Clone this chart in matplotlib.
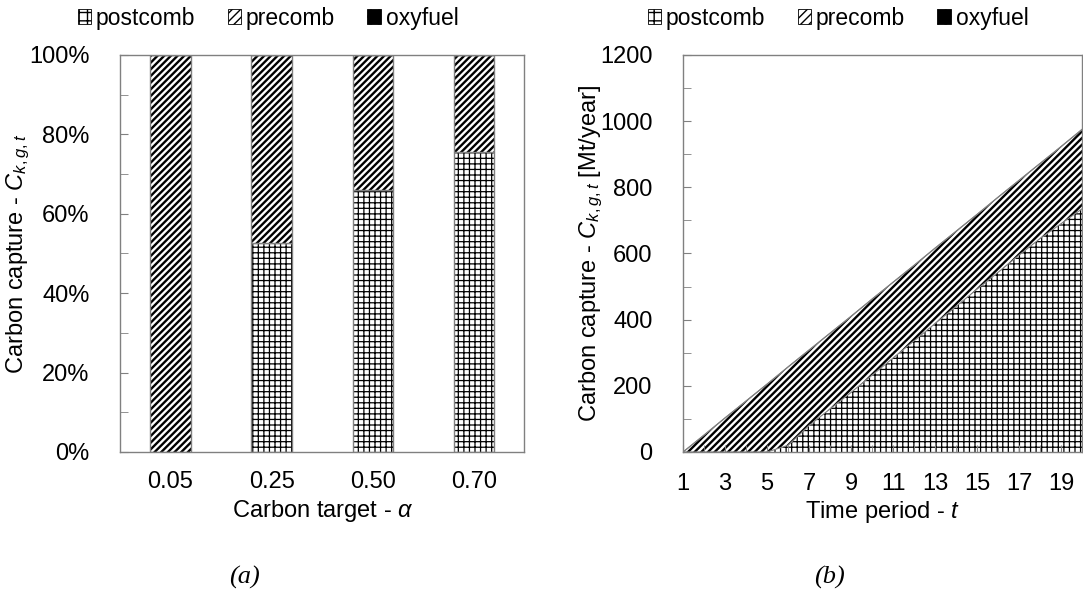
import matplotlib
matplotlib.use("Agg")
import matplotlib.pyplot as plt
from matplotlib.patches import Patch
from matplotlib.ticker import MultipleLocator, PercentFormatter
import numpy as np

plt.rcParams["font.family"] = ["Liberation Sans", "DejaVu Sans"]
plt.rcParams["mathtext.fontset"] = "custom"
plt.rcParams["mathtext.it"] = "Liberation Sans:italic"
plt.rcParams["mathtext.rm"] = "Liberation Sans"

# data, panel (a): share of capture per technology
targets = ["0.05", "0.25", "0.50", "0.70"]
post_share = [0.0, 52.7, 66.0, 75.6]
pre_share = [100.0, 47.3, 34.0, 24.4]
oxy_share = [0.0, 0.0, 0.0, 0.0]

# data, panel (b): capture over time in Mt/year
periods = list(range(1, 21))
post_t = [0, 0, 0, 0, 0, 20, 80, 130, 180, 232, 284, 336, 388, 440, 492,
          543, 595, 645, 690, 735]
pre_t = [0, 51, 103, 154, 205, 237, 228, 229, 230, 230, 229, 228, 228, 227, 226,
         227, 226, 227, 233, 240]
oxy_t = [0] * 20

names = ["postcomb", "precomb", "oxyfuel"]
hatches = ["+++", "/////", "...."]
hatch_lw = [0.9, 1.7, 1.0]
fcs = ["white", "white", "black"]

fs = 17
fig = plt.figure(figsize=(10.83, 5.97), dpi=100)
ax1 = fig.add_axes([0.1108, 0.2429, 0.3735, 0.665])
ax2 = fig.add_axes([0.6307, 0.2429, 0.3684, 0.665])

# ---- panel (a)
x = np.arange(len(targets))
bottom = np.zeros(len(targets))
for vals, h, hl, fc in zip([post_share, pre_share, oxy_share], hatches, hatch_lw, fcs):
    vals = np.array(vals)
    plt.rcParams["hatch.linewidth"] = hl
    ax1.bar(x, vals, 0.4, bottom=bottom, color=fc, hatch=h, edgecolor="black", linewidth=0)
    ax1.bar(x, vals, 0.4, bottom=bottom, fill=False, edgecolor="#808080", linewidth=1.0)
    bottom += vals
ax1.set_xlim(-0.5, 3.5)
ax1.set_ylim(0, 100)
ax1.set_xticks(x)
ax1.set_xticklabels(targets)
ax1.yaxis.set_major_locator(MultipleLocator(20))
ax1.yaxis.set_minor_locator(MultipleLocator(10))
ax1.yaxis.set_major_formatter(PercentFormatter(decimals=0))
ax1.tick_params(axis="x", length=0, pad=14, labelsize=fs)
ax1.tick_params(axis="y", which="both", direction="in", length=6, pad=22, labelsize=fs, color="#808080")
ax1.set_xlabel(r"Carbon target - $\mathit{\alpha}$", fontsize=fs, labelpad=3)
ax1.set_ylabel(r"Carbon capture - $C_{k,g,t}$", fontsize=fs)
ax1.yaxis.set_label_coords(-0.218, 0.5)

# ---- panel (b)
t = np.array(periods)
b0 = np.zeros(len(t))
for vals, h, hl, fc in zip([post_t, pre_t, oxy_t], hatches, hatch_lw, fcs):
    top = b0 + np.array(vals)
    plt.rcParams["hatch.linewidth"] = hl
    ax2.fill_between(t, b0, top, facecolor=fc, hatch=h, edgecolor="black", linewidth=0)
    ax2.plot(t, top, color="#808080", lw=0.8)
    b0 = top
ax2.set_xlim(1, 20)
ax2.set_ylim(0, 1200)
ax2.set_xticks(range(1, 20, 2))
ax2.xaxis.set_minor_locator(MultipleLocator(1))
ax2.yaxis.set_major_locator(MultipleLocator(200))
ax2.yaxis.set_minor_locator(MultipleLocator(100))
ax2.tick_params(axis="x", which="both", direction="in", length=5, pad=15, labelsize=fs, color="#808080")
ax2.tick_params(axis="y", which="both", direction="in", length=6, pad=22, labelsize=fs, color="#808080")
ax2.set_xlabel(r"Time period - $t$", fontsize=fs, labelpad=3)
ax2.set_ylabel(r"Carbon capture - $C_{k,g,t}$ [Mt/year]", fontsize=fs)
ax2.yaxis.set_label_coords(-0.195, 0.5)

for ax in (ax1, ax2):
    for s in ax.spines.values():
        s.set_color("#808080")
        s.set_linewidth(1.0)

plt.rcParams["hatch.linewidth"] = 1.0
handles = [Patch(facecolor=fc, edgecolor="black", hatch=h, linewidth=0.6)
           for h, fc in zip(["++", "////", ".."], fcs)]
for cx in (268 / 1083, 838 / 1083):
    fig.legend(handles, names, loc="center", bbox_to_anchor=(cx, 1 - 18 / 597), ncol=3,
               frameon=False, fontsize=16.5, handlelength=0.6, handleheight=0.6,
               handletextpad=0.2, columnspacing=1.4, borderaxespad=0)

fig.text(0.226, 0.022, "(a)", fontsize=19, family="Liberation Serif", style="italic", ha="center")
fig.text(0.766, 0.022, "(b)", fontsize=19, family="Liberation Serif", style="italic", ha="center")

fig.savefig("out.png", dpi=100)
